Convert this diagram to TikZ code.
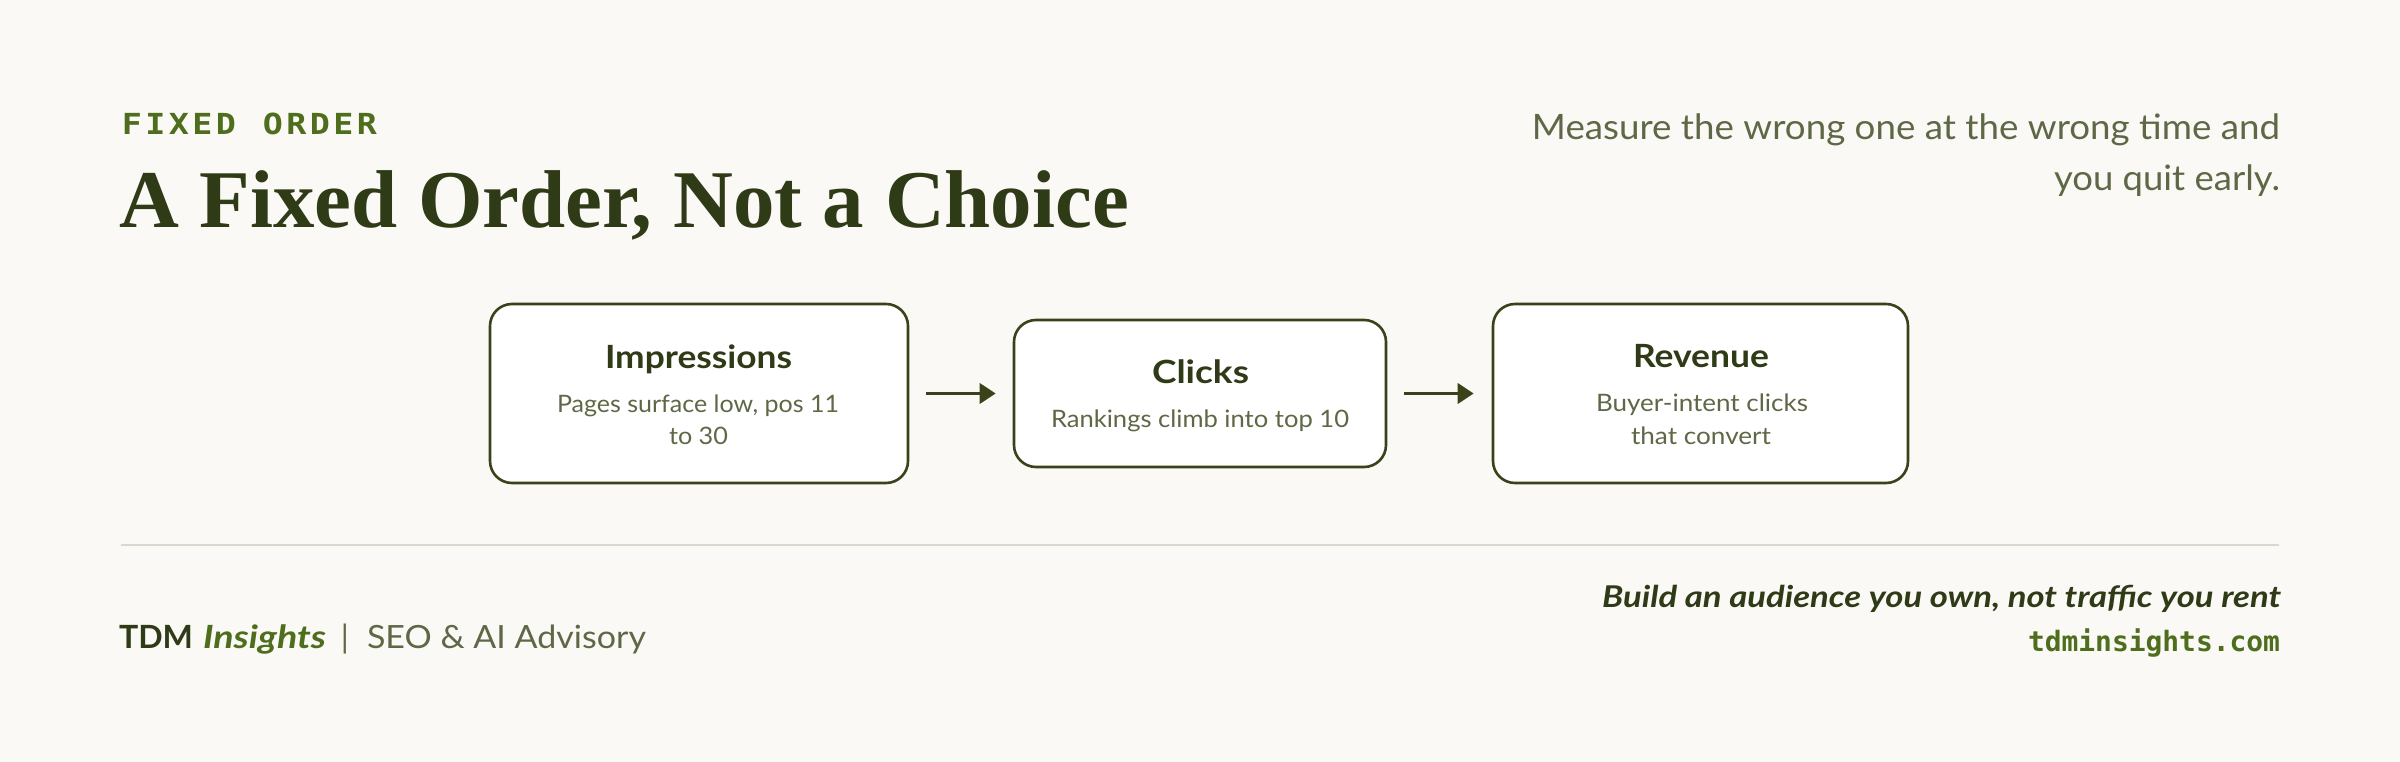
\documentclass[tikz,border=0pt]{standalone}
\usepackage{fontspec}
\usepackage{graphicx}
\usetikzlibrary{arrows.meta}
\setmainfont{Lato}
\newfontfamily\serifT{Liberation Serif}
\newfontfamily\monoT{DejaVu Sans Mono}
\definecolor{bg}{HTML}{FAF9F5}
\definecolor{ink}{HTML}{2F3A17}
\definecolor{edge}{HTML}{3A4219}
\definecolor{leaf}{HTML}{4E6E1D}
\definecolor{muted}{HTML}{5F6846}
\definecolor{rule}{HTML}{DAD8CE}
\newcommand{\fw}[2]{\resizebox{#1pt}{\height}{#2}}
\newcommand{\fsz}[1]{\fontsize{#1}{#1}\selectfont}
\begin{document}
\begin{tikzpicture}[x=1pt,y=-1pt,
  txt/.style={inner sep=0pt, outer sep=0pt},
  stage/.style={draw=edge, line width=2.6pt, fill=white, rounded corners=22pt, inner sep=0pt},
  ttl/.style={txt, anchor=base, text=ink, font=\fsz{32}\bfseries},
  sub/.style={txt, anchor=base, text=muted, font=\fsz{24}},
  kick/.style={txt, anchor=base, text=leaf, font=\monoT\bfseries\fsz{29}},
  arr/.style={draw=edge, line width=3.6pt, -{Triangle[length=16pt,width=20pt]}}]
\fill[bg] (0,0) rectangle (2400,762);
\useasboundingbox (0,0) rectangle (2400,762);

% header
\foreach \c [count=\i from 0] in {F,I,X,E,D,{},O,R,D,E,R}
  \node[kick] (k\i) at (132+23.5*\i,135) {\scalebox{1.15}[1]{\c}};
\node[txt, anchor=base west, text=ink, font=\serifT\bfseries\fsz{82}] (title) at (119,228) {\fw{1010}{A Fixed Order, Not a Choice}};
\node[txt, anchor=base east, text=muted, font=\fsz{35}] (lede1) at (2280,140) {\fw{748}{Measure the wrong one at the wrong time and}};
\node[txt, anchor=base east, text=muted, font=\fsz{35}] (lede2) at (2280,190) {\fw{226}{you quit early.}};

% stages
\node[stage, minimum width=418pt, minimum height=179pt] (b1) at (699,393.5) {};
\node[stage, minimum width=372pt, minimum height=147pt] (b2) at (1200,393.5) {};
\node[stage, minimum width=415pt, minimum height=179pt] (b3) at (1700.5,393.5) {};

\node[ttl] (t1) at (698.5,368) {\fw{187}{Impressions}};
\node[sub] (s1a) at (698,412) {\fw{282}{Pages surface low, pos 11}};
\node[sub] (s1b) at (698.5,444) {\fw{59}{to 30}};

\node[ttl] (t2) at (1200.5,383) {\fw{97}{Clicks}};
\node[sub] (s2) at (1200,427) {\fw{298}{Rankings climb into top 10}};

\node[ttl] (t3) at (1701,367) {\fw{136}{Revenue}};
\node[sub] (s3a) at (1702,411) {\fw{212}{Buyer-intent clicks}};
\node[sub] (s3b) at (1701,444) {\fw{140}{that convert}};

\draw[arr] ([xshift=17pt]b1.east) -- ([xshift=-17pt]b2.west);
\draw[arr] ([xshift=17pt]b2.east) -- ([xshift=-18pt]b3.west);

% rule
\draw[rule, line width=2pt] (121,545) -- (2279,545);

% footer
\node[txt, anchor=base west, text=ink, font=\fsz{32}\bfseries] (brand) at (119,648) {\fw{74}{TDM}};
\node[txt, anchor=base west, text=leaf, font=\fsz{32}\bfseries\itshape] (brand2) at (203,648) {\fw{123}{Insights}};
\node[txt, anchor=base, text=muted, font=\fsz{32}] (bar) at (345,648) {|};
\node[txt, anchor=base west, text=muted, font=\fsz{32}] (tag) at (367,648) {\fw{279}{SEO \& AI Advisory}};
\node[txt, anchor=base east, text=ink, font=\fsz{30}\bfseries\itshape] (motto) at (2281,607) {\fw{679}{Build an audience you own, not traffic you rent}};
\node[txt, anchor=base east, text=leaf, font=\monoT\bfseries\fsz{28}] (url) at (2280,651) {\fw{252}{tdminsights.com}};
\end{tikzpicture}
\end{document}
